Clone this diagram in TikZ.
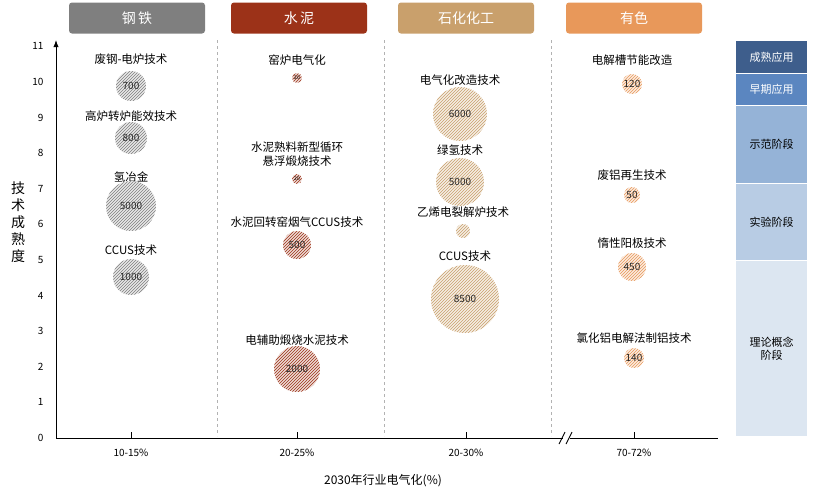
\documentclass[tikz,border=0pt]{standalone}
\usepackage{fontspec}
\setmainfont{Noto Sans CJK SC}
\usetikzlibrary{patterns,arrows.meta}
\definecolor{cSteel}{HTML}{7F7F7F}
\definecolor{cCem}{HTML}{9C3218}
\definecolor{cPet}{HTML}{C9A06C}
\definecolor{cNon}{HTML}{E8985A}
\definecolor{cB1}{HTML}{3E5E8C}
\definecolor{cB2}{HTML}{5B86C0}
\definecolor{cB3}{HTML}{95B3D7}
\definecolor{cB4}{HTML}{B8CCE4}
\definecolor{cB5}{HTML}{DCE6F1}
\tikzset{
 hdr/.style={rounded corners=3pt,minimum width=136pt,minimum height=31pt,text=white,font=\fontsize{14}{14}\selectfont},
 lab/.style={font=\fontsize{11.5}{14}\selectfont,align=center},
 val/.style={font=\fontsize{10}{10}\selectfont,text=black!85},
 tick/.style={font=\fontsize{10}{10}\selectfont},
 sep/.style={dashed,gray!60,line width=0.8pt},
 band/.style={draw=white,line width=1pt,font=\fontsize{11}{13}\selectfont,align=center}
}
\newcommand{\bub}[5]{% name, x, y, r, color
 \fill[#5!18] (#2,#3) circle (#4);
 \fill[pattern=north east lines,pattern color=#5] (#2,#3) circle (#4);
 \node[minimum size=2*#4] (#1) at (#2,#3) {};
}
\begin{document}
\begin{tikzpicture}[x=1pt,y=-1pt]
\useasboundingbox (0,0) rectangle (816,501);
% headers
\node[hdr,fill=cSteel] (h1) at (137,18) {钢\,铁};
\node[hdr,fill=cCem] (h2) at (299,18) {水\,泥};
\node[hdr,fill=cPet] (h3) at (466,18) {石化化工};
\node[hdr,fill=cNon] (h4) at (634,18) {有色};
% right bands
\node[band,fill=cB1,text=white,minimum width=72pt,minimum height=33pt,anchor=north west] (b1) at (735,40) {成熟应用};
\node[band,fill=cB2,text=white,minimum width=72pt,minimum height=32pt,anchor=north west] (b2) at (735,73) {早期应用};
\node[band,fill=cB3,minimum width=72pt,minimum height=78pt,anchor=north west] (b3) at (735,105) {示范阶段};
\node[band,fill=cB4,minimum width=72pt,minimum height=77pt,anchor=north west] (b4) at (735,183) {实验阶段};
\node[band,fill=cB5,minimum width=72pt,minimum height=176pt,anchor=north west] (b5) at (735,260) {理论概念\\阶段};
% separators
\foreach \x in {217,384,551} \draw[sep] (\x,40) -- (\x,436);
% axes
\coordinate (o) at (56,438);
\coordinate (ytop) at (56,40);
\coordinate (xend) at (718,438);
\draw[-{Latex[length=7pt]},line width=1pt] (o) -- (ytop);
\draw[line width=1pt] (o) -- (563,438) (570,438) -- (xend);
\draw[line width=0.9pt] (559,444) -- (565,432) (566,444) -- (572,432);
\foreach \i in {0,...,11} \node[tick,anchor=east] at (47,438-35.6*\i) {\i};
\foreach \x/\t in {131/10-15\%,297/20-25\%,466/20-30\%,634/70-72\%}{
 \draw[line width=0.9pt] (\x,438) -- (\x,432);
 \node[tick] at (\x,453) {\t};}
\node[font=\fontsize{12}{12}\selectfont] (xt) at (383,481) {2030年行业电气化(\%)};
\node[font=\fontsize{14}{17}\selectfont,align=center] (yt) at (18,222) {技\\术\\成\\熟\\度};
% steel
\node[lab] (s1) at (131,59) {废钢-电炉技术};
\bub{sb1}{131}{86}{15}{cSteel} \node[val] at (131,86) {700};
\node[lab] (s2) at (131,116) {高炉转炉能效技术};
\bub{sb2}{131}{138}{16}{cSteel} \node[val] at (131,138) {800};
\node[lab] (s3) at (131,177) {氢冶金};
\bub{sb3}{131}{206}{25}{cSteel} \node[val] at (131,206) {5000};
\node[lab] (s4) at (131,250) {CCUS技术};
\bub{sb4}{131}{277}{18}{cSteel} \node[val] at (131,277) {1000};
% cement
\node[lab] (c1) at (297,60) {窑炉电气化};
\bub{cb1}{297}{78}{5}{cCem} \node[font=\fontsize{5}{5}\selectfont] at (297,78) {20};
\node[lab] (c2) at (297,154) {水泥熟料新型循环\\悬浮煅烧技术};
\bub{cb2}{297}{179}{5}{cCem} \node[font=\fontsize{5}{5}\selectfont] at (297,179) {20};
\node[lab] (c3) at (297,222) {水泥回转窑烟气CCUS技术};
\bub{cb3}{297}{245}{14}{cCem} \node[val] at (297,245) {500};
\node[lab] (c4) at (297,340) {电辅助煅烧水泥技术};
\bub{cb4}{297}{369}{23}{cCem} \node[val] at (297,369) {2000};
% petro
\node[lab] (p1) at (460,80) {电气化改造技术};
\bub{pb1}{460}{114}{27}{cPet} \node[val] at (460,114) {6000};
\node[lab] (p2) at (460,150) {绿氢技术};
\bub{pb2}{460}{182}{24}{cPet} \node[val] at (460,182) {5000};
\node[lab] (p3) at (463,212) {乙烯电裂解炉技术};
\bub{pb3}{463}{231}{7}{cPet}
\node[lab] (p4) at (465,256) {CCUS技术};
\bub{pb4}{465}{299}{34}{cPet} \node[val] at (465,299) {8500};
% nonferrous
\node[lab] (n1) at (632,60) {电解槽节能改造};
\bub{nb1}{632}{84}{10}{cNon} \node[val] at (632,84) {120};
\node[lab] (n2) at (632,175) {废铝再生技术};
\bub{nb2}{632}{195}{8}{cNon} \node[val] at (632,195) {50};
\node[lab] (n3) at (632,243) {惰性阳极技术};
\bub{nb3}{632}{267}{14}{cNon} \node[val] at (632,267) {450};
\node[lab] (n4) at (634,338) {氯化铝电解法制铝技术};
\bub{nb4}{634}{358}{10}{cNon} \node[val] at (634,358) {140};
\end{tikzpicture}
\end{document}
